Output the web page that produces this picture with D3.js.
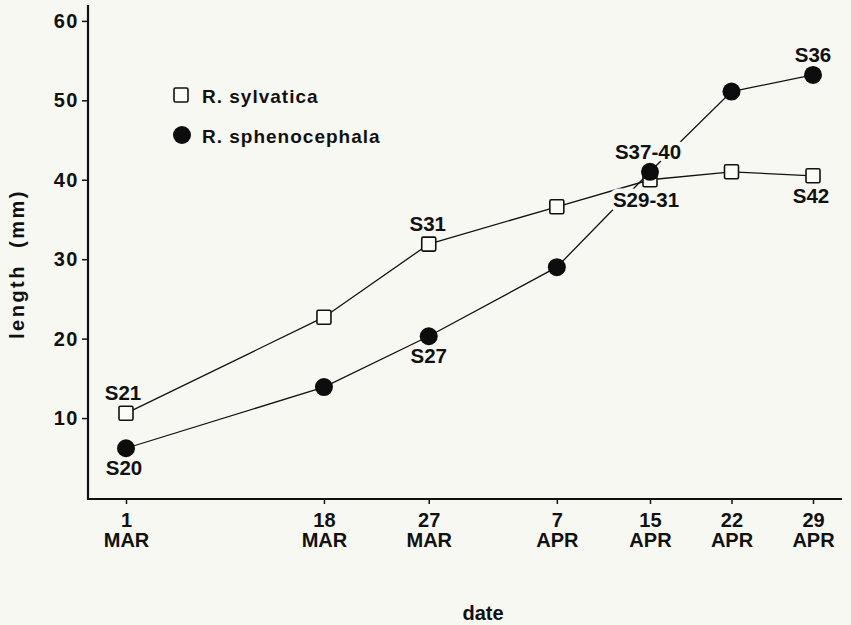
<!DOCTYPE html>
<html>
<head>
<meta charset="utf-8">
<script src="https://cdn.jsdelivr.net/npm/d3@7"></script>
<style>
  html, body { margin: 0; padding: 0; background: #f8f8f3; }
  svg { display: block; }
  text { font-family: "Liberation Sans", Arial, Helvetica, sans-serif; fill: #111; }
</style>
</head>
<body>
<svg id="chart" width="851" height="625"></svg>
<script>
// Sampling dates (1 March to 29 April)
const dates = ["1980-03-01", "1980-03-18", "1980-03-27", "1980-04-07", "1980-04-15", "1980-04-22", "1980-04-29"];
const dayLabels = ["1", "18", "27", "7", "15", "22", "29"];
const monthLabels = ["MAR", "MAR", "MAR", "APR", "APR", "APR", "APR"];

// Mean body length (mm)
const sylvatica = [10.6, 22.7, 31.9, 36.6, 40.0, 41.0, 40.5];
const sphenocephala = [6.2, 13.9, 20.3, 29.0, 41.0, 51.1, 53.2];

const yTicks = [10, 20, 30, 40, 50, 60];

// Developmental stage labels: series, date index, placement
const stageLabels = [
  { text: "S21", series: "sylvatica", i: 0, pos: "above", dx: -3 },
  { text: "S20", series: "sphenocephala", i: 0, pos: "below", dx: -2 },
  { text: "S31", series: "sylvatica", i: 2, pos: "above", dx: -1 },
  { text: "S27", series: "sphenocephala", i: 2, pos: "below", dx: 0 },
  { text: "S29-31", series: "sylvatica", i: 4, pos: "below", dx: -4 },
  { text: "S37-40", series: "sphenocephala", i: 4, pos: "above", dx: -2 },
  { text: "S36", series: "sphenocephala", i: 6, pos: "above", dx: 0 },
  { text: "S42", series: "sylvatica", i: 6, pos: "below", dx: -2 }
];

const parse = d3.timeParse("%Y-%m-%d");
const dateVals = dates.map(parse);
const seriesValues = { sylvatica, sphenocephala };

const svg = d3.select("#chart");
const bg = "#f8f8f3";

const x = d3.scaleTime().domain([dateVals[0], dateVals[dateVals.length - 1]]).range([126, 813]);
const y = d3.scaleLinear().domain([0, 62]).range([497.5, 5]);

const axisLeftX = 88;
const axisRightX = 842;

// Frame lines (y axis and x axis)
svg.append("line")
  .attr("x1", axisLeftX).attr("x2", axisLeftX)
  .attr("y1", y(62)).attr("y2", y(0) + 1.5)
  .attr("stroke", "#111").attr("stroke-width", 2.2);
svg.append("line")
  .attr("x1", axisLeftX - 1).attr("x2", axisRightX)
  .attr("y1", y(0) + 1.5).attr("y2", y(0) + 1.5)
  .attr("stroke", "#111").attr("stroke-width", 2.2);

// Y axis ticks and labels
const yAxis = d3.axisLeft(y).tickValues(yTicks).tickSize(6).tickPadding(3).tickFormat(d3.format("d"));
const gy = svg.append("g").attr("transform", `translate(${axisLeftX},0)`).call(yAxis);
gy.select(".domain").remove();
gy.selectAll(".tick line").attr("stroke", "#111").attr("stroke-width", 1.5);
gy.selectAll(".tick text")
  .attr("font-size", 20).attr("font-weight", "bold")
  .attr("letter-spacing", 1.5)
  .attr("font-family", "Liberation Sans, Arial, sans-serif")
  .attr("fill", "#111");

// X axis ticks with two-line date labels
const xAxis = d3.axisBottom(x).tickValues(dateVals).tickSize(5).tickFormat("");
const gx = svg.append("g").attr("transform", `translate(0,${y(0) + 1.5})`).call(xAxis);
gx.select(".domain").remove();
gx.selectAll(".tick line").attr("stroke", "#111").attr("stroke-width", 1.5);
gx.selectAll(".tick").each(function (d, i) {
  const t = d3.select(this).append("text")
    .attr("text-anchor", "middle")
    .attr("font-size", 20).attr("font-weight", "bold")
    .attr("fill", "#111");
  t.append("tspan").attr("x", 0).attr("y", 28).text(dayLabels[i]);
  t.append("tspan").attr("x", 0).attr("y", 48).text(monthLabels[i]);
});

// Axis titles
svg.append("text")
  .attr("x", 483).attr("y", 620)
  .attr("text-anchor", "middle")
  .attr("font-size", 20).attr("font-weight", "bold")
  .text("date");
svg.append("text")
  .attr("transform", `translate(24,${264}) rotate(-90)`)
  .attr("text-anchor", "middle")
  .attr("font-size", 20).attr("font-weight", "bold")
  .attr("letter-spacing", 2.5)
  .attr("xml:space", "preserve")
  .text("length  (mm)");

// Connecting lines
const line = d3.line().x((d, i) => x(dateVals[i])).y(d => y(d));
["sylvatica", "sphenocephala"].forEach(k => {
  svg.append("path")
    .datum(seriesValues[k])
    .attr("d", line)
    .attr("fill", "none")
    .attr("stroke", "#111")
    .attr("stroke-width", 1.3);
});

// Stage labels with a background halo that interrupts the lines beneath
svg.append("g").selectAll("text")
  .data(stageLabels)
  .join("text")
  .attr("x", d => x(dateVals[d.i]) + d.dx)
  .attr("y", d => y(seriesValues[d.series][d.i]) + (d.pos === "above" ? -13 : 27))
  .attr("text-anchor", "middle")
  .attr("font-size", 20.5).attr("font-weight", "bold")
  .attr("stroke", bg).attr("stroke-width", 9)
  .attr("stroke-linejoin", "round")
  .attr("paint-order", "stroke")
  .text(d => d.text);

// Markers: open squares for R. sylvatica, filled circles for R. sphenocephala
const sq = 14;
svg.append("g").selectAll("rect")
  .data(sylvatica)
  .join("rect")
  .attr("x", (d, i) => x(dateVals[i]) - sq / 2)
  .attr("y", d => y(d) - sq / 2)
  .attr("width", sq).attr("height", sq)
  .attr("rx", 1.5)
  .attr("fill", "#fbfbf8")
  .attr("stroke", "#111").attr("stroke-width", 1.6);
svg.append("g").selectAll("circle")
  .data(sphenocephala)
  .join("circle")
  .attr("cx", (d, i) => x(dateVals[i]))
  .attr("cy", d => y(d))
  .attr("r", 9)
  .attr("fill", "#0d0d0d");

// Legend
const legend = svg.append("g");
legend.append("rect")
  .attr("x", 174).attr("y", 88).attr("width", 14).attr("height", 14).attr("rx", 1.5)
  .attr("fill", "#fbfbf8").attr("stroke", "#111").attr("stroke-width", 1.6);
legend.append("circle").attr("cx", 182).attr("cy", 135).attr("r", 9).attr("fill", "#0d0d0d");
legend.append("text").attr("x", 202).attr("y", 103)
  .attr("font-size", 19).attr("font-weight", "bold").attr("letter-spacing", 1)
  .text("R. sylvatica");
legend.append("text").attr("x", 202).attr("y", 143)
  .attr("font-size", 19).attr("font-weight", "bold").attr("letter-spacing", 1)
  .text("R. sphenocephala");
</script>
</body>
</html>
